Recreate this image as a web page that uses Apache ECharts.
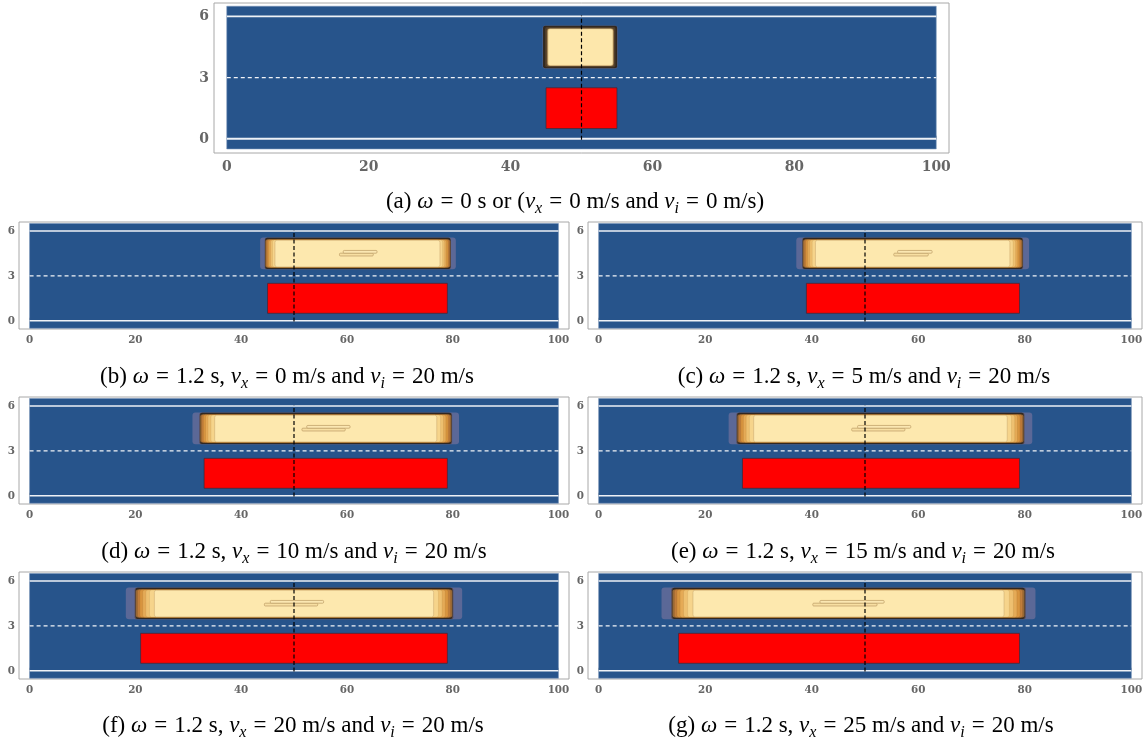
<!DOCTYPE html>
<html>
<head>
<meta charset="utf-8">
<script src="https://cdn.jsdelivr.net/npm/echarts@6/dist/echarts.min.js"></script>
<style>
  html, body { margin: 0; padding: 0; background: #ffffff; }
  #chart { width: 1147px; height: 745px; }
</style>
</head>
<body>
<div id="chart"></div>
<script>
// ---- tick labels ----
const xTicks = [0, 20, 40, 60, 80, 100];
const yTicks = [0, 3, 6];

// ---- scenario parameters, one entry per panel (a)..(g) ----
const panelIds = ['a', 'b', 'c', 'd', 'e', 'f', 'g'];
const omega = [0, 1.2, 1.2, 1.2, 1.2, 1.2, 1.2];     // s
const vx = [0, 0, 5, 10, 15, 20, 25];                // m/s
const vi = [0, 20, 20, 20, 20, 20, 20];              // m/s

// ---- road geometry (m) ----
const roadX = [0, 100];
const roadY = [-0.5, 6.5];
const solidLaneY = [0, 6];
const dashedLaneY = [3];
const observerX = 50;
const observerY = [-0.05, 6.05];

// ---- occupied region in the lower lane (red) ----
const occupiedStart = [45, 45, 39, 33, 27, 21, 15];
const occupiedEnd = [55, 79, 79, 79, 79, 79, 79];
const occupiedY = [0.5, 2.5];

// ---- field contours in the upper lane ----
const fieldOuterLeft = [44.5, 43.6, 37.1, 30.8, 24.4, 18.2, 11.8];
const fieldOuterRight = [55.1, 80.6, 80.8, 81.2, 81.4, 81.8, 82.0];
const fieldInnerLeft = [45.3, 46.4, 40.7, 35.0, 29.1, 23.6, 17.7];
const fieldInnerRight = [54.4, 77.6, 77.2, 77.0, 76.7, 76.4, 76.1];
const fieldOuterY = [3.44, 5.56];
const fieldInnerY = [3.60, 5.38];
const peakLeft = [null, 58.6, 55.4, 51.5, 47.5, 44.4, 40.2];
const peakRight = [null, 65.7, 62.6, 60.6, 58.6, 55.6, 53.6];
const peakY = [4.33, 4.70];

// contour bands, outermost first: th = share of the side gap, tv = share of the top/bottom gap
const movingBands = [
  { th: 0.00, tv: 0.00, c: '#5b6897' },
  { th: 0.31, tv: 0.03, c: '#5a4c55' },
  { th: 0.345, tv: 0.10, c: '#2f2824' },
  { th: 0.35, tv: 0.70, c: '#9a6a36', s: 'rgba(95,62,25,0.35)' },
  { th: 0.41, tv: 0.76, c: '#c07d3b', s: 'rgba(120,78,30,0.35)' },
  { th: 0.49, tv: 0.82, c: '#d8943f', s: 'rgba(140,92,35,0.35)' },
  { th: 0.59, tv: 0.87, c: '#e5aa56', s: 'rgba(150,102,40,0.35)' },
  { th: 0.70, tv: 0.91, c: '#eec070', s: 'rgba(160,115,50,0.35)' },
  { th: 0.83, tv: 0.95, c: '#f6d48b', s: 'rgba(170,130,60,0.35)' },
  { th: 1.00, tv: 1.00, c: '#fde8ae', s: '#c6a56c' }
];
const staticBands = [
  { th: 0.00, tv: 0.00, c: '#56648f' },
  { th: 0.10, tv: 0.08, c: '#33291f' },
  { th: 0.45, tv: 0.45, c: '#4f3d29' },
  { th: 0.75, tv: 0.75, c: '#7d623d' },
  { th: 0.90, tv: 0.90, c: '#bf9c64' },
  { th: 1.00, tv: 1.00, c: '#fde7ab', s: '#e8cf95' }
];

// ---- panel boxes (px) and axis ranges ----
const boxes = [
  { left: 214, top: 3, width: 735, height: 150 },
  { left: 19, top: 222, width: 550, height: 107 },
  { left: 588, top: 222, width: 554, height: 107 },
  { left: 19, top: 397, width: 550, height: 107 },
  { left: 588, top: 397, width: 554, height: 107 },
  { left: 19, top: 572, width: 550, height: 107 },
  { left: 588, top: 572, width: 554, height: 107 }
];
const captionPos = [[575, 202], [287, 377], [864, 377], [294, 552], [863, 552], [293, 726], [861, 726]];

const BLUE = '#27548b';
const LABEL_FONT = "'DejaVu Serif Condensed', 'DejaVu Serif', serif";
const CAPTION_FONT = "'Liberation Serif', 'DejaVu Serif', serif";

function rectBetween(api, x0, y0, x1, y1) {
  const p0 = api.coord([x0, y0]);
  const p1 = api.coord([x1, y1]);
  return { x: p0[0], y: p0[1], width: p1[0] - p0[0], height: p1[1] - p0[1] };
}

function renderRoad(params, api) {
  return {
    type: 'rect',
    shape: rectBetween(api, api.value(0), roadY[1], api.value(1), roadY[0]),
    style: { fill: BLUE, stroke: '#7390b5', lineWidth: 0.6 }
  };
}

function renderOccupied(params, api) {
  return {
    type: 'rect',
    shape: rectBetween(api, api.value(0), occupiedY[1], api.value(1), occupiedY[0]),
    style: { fill: '#ff0000', stroke: '#3a2a3a', lineWidth: 0.7 }
  };
}

function renderField(params, api) {
  const oL = api.value(0), oR = api.value(1), iL = api.value(2), iR = api.value(3);
  const mL = api.value(4), mR = api.value(5);
  const isStatic = api.value(6) === 0;
  const bands = isStatic ? staticBands : movingBands;
  const children = [];
  bands.forEach(function (b, k) {
    const l = oL + (iL - oL) * b.th;
    const r = oR - (oR - iR) * b.th;
    const t = fieldOuterY[1] - (fieldOuterY[1] - fieldInnerY[1]) * b.tv;
    const bt = fieldOuterY[0] + (fieldInnerY[0] - fieldOuterY[0]) * b.tv;
    const shape = rectBetween(api, l, t, r, bt);
    shape.r = k === 0 ? 3 : 2;
    children.push({
      type: 'rect', shape: shape,
      style: { fill: b.c, stroke: b.s || null, lineWidth: 0.5 }
    });
  });
  if (isFinite(mL) && isFinite(mR)) {
    const mid = (peakY[0] + peakY[1]) / 2;
    const w = mR - mL;
    const lower = rectBetween(api, mL, mid, mR - w * 0.1, peakY[0]);
    const upper = rectBetween(api, mL + w * 0.1, peakY[1], mR, mid);
    lower.r = 1; upper.r = 1;
    children.push({ type: 'rect', shape: lower, style: { fill: '#f8dfa2', stroke: '#c2a26b', lineWidth: 0.8 } });
    children.push({ type: 'rect', shape: upper, style: { fill: '#fbe7b2', stroke: '#c2a26b', lineWidth: 0.8 } });
  }
  return { type: 'group', children: children };
}

function captionText(i) {
  const tag = '(' + panelIds[i] + ') ';
  if (i === 0) {
    return tag + '{i|ω}{e|=}' + omega[i] + ' s or ({i|v}{s|x}{e|=}' + vx[i] +
      ' m/s and {i|v}{s|i}{e|=}' + vi[i] + ' m/s)';
  }
  return tag + '{i|ω}{e|=}' + omega[i] + ' s, {i|v}{s|x}{e|=}' + vx[i] +
    ' m/s and {i|v}{s|i}{e|=}' + vi[i] + ' m/s';
}

const grid = [], xAxis = [], yAxis = [], series = [], graphic = [];

boxes.forEach(function (box, i) {
  const big = i === 0;
  grid.push({
    left: box.left, top: box.top, width: box.width, height: box.height,
    show: true, borderColor: '#a8a8a8', borderWidth: 1, backgroundColor: '#ffffff'
  });
  const labelStyle = {
    color: '#666666', fontFamily: LABEL_FONT, fontWeight: 'bold',
    fontSize: big ? 15.5 : 11.5
  };
  xAxis.push({
    type: 'value', gridIndex: i,
    min: big ? -1.8 : -2, max: big ? 101.8 : 102,
    axisLine: { show: false },
    splitLine: { show: false },
    axisTick: { show: true, inside: true, length: 3, customValues: xTicks, lineStyle: { color: '#b5b5b5' } },
    axisLabel: Object.assign({ show: true, customValues: xTicks, margin: big ? 6 : 5 }, labelStyle)
  });
  yAxis.push({
    type: 'value', gridIndex: i,
    min: big ? -0.7 : -0.55, max: big ? 6.66 : 6.6,
    axisLine: { show: false },
    splitLine: { show: false },
    axisTick: { show: true, inside: true, length: 3, customValues: yTicks, lineStyle: { color: '#b5b5b5' } },
    axisLabel: Object.assign({ show: true, customValues: yTicks, margin: big ? 5 : 4 }, labelStyle)
  });

  const common = { xAxisIndex: i, yAxisIndex: i, silent: true, animation: false };

  series.push(Object.assign({
    type: 'custom', z: 1, renderItem: renderRoad, clip: false,
    encode: { x: [0, 1] },
    data: [[roadX[0], roadX[1]]]
  }, common));

  solidLaneY.forEach(function (y) {
    series.push(Object.assign({
      type: 'line', z: 2, symbol: 'none',
      lineStyle: { color: '#eef1f6', width: big ? 1.8 : 1.5 },
      data: [[roadX[0], y], [roadX[1], y]]
    }, common));
  });
  dashedLaneY.forEach(function (y) {
    series.push(Object.assign({
      type: 'line', z: 2, symbol: 'none',
      lineStyle: { color: '#f2f4f8', width: 1.3, type: [4, 3] },
      data: [[roadX[0], y], [roadX[1], y]]
    }, common));
  });

  series.push(Object.assign({
    type: 'custom', z: 3, renderItem: renderOccupied, clip: false,
    encode: { x: [0, 1] },
    data: [[occupiedStart[i], occupiedEnd[i]]]
  }, common));

  series.push(Object.assign({
    type: 'custom', z: 4, renderItem: renderField, clip: false,
    encode: { x: [0, 1, 2, 3] },
    data: [[fieldOuterLeft[i], fieldOuterRight[i], fieldInnerLeft[i], fieldInnerRight[i],
            peakLeft[i] == null ? '-' : peakLeft[i], peakRight[i] == null ? '-' : peakRight[i],
            vx[i] + vi[i]]]
  }, common));

  series.push(Object.assign({
    type: 'line', z: 5, symbol: 'none',
    lineStyle: { color: '#000000', width: 1.2, type: [4, 2.5] },
    data: [[observerX, observerY[0]], [observerX, observerY[1]]]
  }, common));

  graphic.push({
    type: 'text',
    x: captionPos[i][0],
    y: captionPos[i][1],
    style: {
      text: captionText(i),
      fontFamily: CAPTION_FONT, fontSize: 23, lineHeight: 29,
      fill: '#000000', align: 'center', verticalAlign: 'middle',
      rich: {
        i: { fontFamily: CAPTION_FONT, fontSize: 23, fontStyle: 'italic', lineHeight: 29 },
        e: { fontFamily: CAPTION_FONT, fontSize: 23, lineHeight: 29, padding: [0, 7, 0, 7] },
        s: { fontFamily: CAPTION_FONT, fontSize: 16, fontStyle: 'italic', lineHeight: 17, verticalAlign: 'bottom' }
      }
    }
  });
});

const chart = echarts.init(document.getElementById('chart'), null, { renderer: 'canvas' });
chart.setOption({
  animation: false,
  backgroundColor: '#ffffff',
  grid: grid,
  xAxis: xAxis,
  yAxis: yAxis,
  series: series,
  graphic: graphic
});
</script>
</body>
</html>
